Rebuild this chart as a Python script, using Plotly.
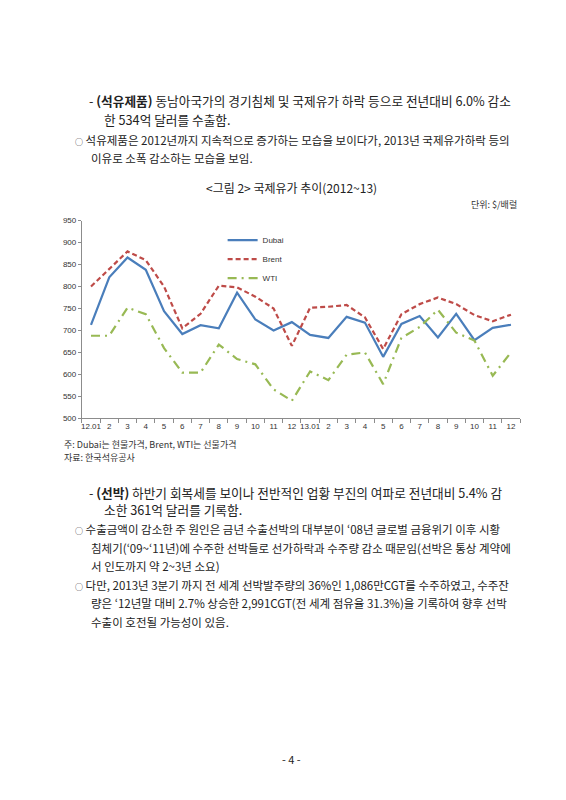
import plotly.graph_objects as go

# monthly oil prices 2012.01 - 2013.12 ($/bbl, as plotted)
months = ["12.01", "2", "3", "4", "5", "6", "7", "8", "9", "10", "11", "12",
          "13.01", "2", "3", "4", "5", "6", "7", "8", "9", "10", "11", "12"]
dubai = [713, 821, 866, 838, 744, 692, 712, 705, 786, 725, 700, 719,
         690, 683, 731, 718, 640, 715, 733, 684, 738, 678, 706, 713]
brent = [800, 840, 880, 860, 800, 705, 738, 802, 798, 777, 750, 665,
         752, 754, 758, 730, 658, 737, 760, 775, 760, 735, 721, 736]
wti = [688, 688, 752, 737, 660, 604, 604, 668, 635, 623, 566, 540,
       607, 587, 645, 650, 578, 683, 708, 747, 695, 677, 597, 650]
y_ticks = [500, 550, 600, 650, 700, 750, 800, 850, 900, 950]

W, H = 566, 800
KR = "Noto Sans CJK KR"
idx = list(range(len(months)))
BUL = "<span style='font-size:8px'>○</span> "

fig = go.Figure()
fig.add_trace(go.Scatter(x=idx, y=dubai, name="Dubai", mode="lines",
                         line=dict(color="#4a7ebb", width=2.2)))
fig.add_trace(go.Scatter(x=idx, y=brent, name="Brent", mode="lines",
                         line=dict(color="#be4b48", width=2.2, dash="5px,3px")))
fig.add_trace(go.Scatter(x=idx, y=wti, name="WTI", mode="lines",
                         line=dict(color="#98b954", width=2.2, dash="9px,5px,2px,5px")))


def px(x):
    return x / W


def py(y):
    return 1 - y / H


def note(text, x, y, size, anchor="left", color="#222"):
    fig.add_annotation(text=text, x=px(x), y=py(y), xref="paper", yref="paper",
                       xanchor=anchor, yanchor="middle", showarrow=False,
                       font=dict(family=KR, size=size, color=color))


# page text
note("- <b>(석유제품)</b> 동남아국가의 경기침체 및 국제유가 하락 등으로 전년대비 6.0% 감소", 78, 90, 12.7)
note("한 534억 달러를 수출함.", 93, 109, 12.7)
note(BUL + "석유제품은 2012년까지 지속적으로 증가하는 모습을 보이다가, 2013년 국제유가하락 등의", 64, 129, 11.5)
note("이유로 소폭 감소하는 모습을 보임.", 80, 148, 11.5)
note("&lt;그림 2&gt; 국제유가 추이(2012~13)", 283, 178, 12, anchor="center")
note("단위: $/배럴", 511, 195, 9, anchor="right", color="#333")

note("주: Dubai는 현물가격, Brent, WTI는 선물가격", 53, 437, 9, color="#333")
note("자료: 한국석유공사", 53, 451, 9, color="#333")

note("- <b>(선박)</b> 하반기 회복세를 보이나 전반적인 업황 부진의 여파로 전년대비 5.4% 감", 78, 486, 12.7)
note("소한 361억 달러를 기록함.", 93, 503, 12.7)
note(BUL + "수출금액이 감소한 주 원인은 금년 수출선박의 대부분이 ‘08년 글로벌 금융위기 이후 시황", 64, 523, 11.5)
note("침체기(‘09~‘11년)에 수주한 선박들로 선가하락과 수주량 감소 때문임(선박은 통상 계약에", 80, 542, 11.5)
note("서 인도까지 약 2~3년 소요)", 80, 560, 11.5)
note(BUL + "다만, 2013년 3분기 까지 전 세계 선박발주량의 36%인 1,086만CGT를 수주하였고, 수주잔", 64, 580, 11.5)
note("량은 ‘12년말 대비 2.7% 상승한 2,991CGT(전 세계 점유율 31.3%)을 기록하여 향후 선박", 80, 598, 11.5)
note("수출이 호전될 가능성이 있음.", 80, 617, 11.5)
note("- 4 -", 283, 755, 11, anchor="center")

axis_font = dict(family="Liberation Sans, Arial", size=8, color="#333")
fig.update_layout(
    width=W, height=H,
    margin=dict(l=0, r=0, t=0, b=0),
    paper_bgcolor="white", plot_bgcolor="white",
    showlegend=True,
    legend=dict(x=px(214), y=py(216), xanchor="left", yanchor="top",
                bgcolor="rgba(0,0,0,0)", font=axis_font, tracegroupgap=0,
                itemwidth=30),
    xaxis=dict(domain=[px(73), px(512)], range=[-0.5, len(months) - 0.5],
               tickmode="array", tickvals=idx, ticktext=months, ticks="",
               showgrid=False, zeroline=False, showline=True,
               linecolor="#8c8c8c", linewidth=1, tickfont=axis_font,
               minor=dict(tick0=-0.5, dtick=1, ticks="outside", ticklen=4,
                          tickcolor="#8c8c8c", showgrid=False)),
    yaxis=dict(domain=[py(411), py(211)], range=[500, 950],
               tickmode="array", tickvals=y_ticks, ticks="outside", ticklen=3,
               tickcolor="#8c8c8c", showgrid=False, zeroline=False,
               showline=True, linecolor="#8c8c8c", linewidth=1,
               tickfont=axis_font),
)

fig.write_html("out.html")
